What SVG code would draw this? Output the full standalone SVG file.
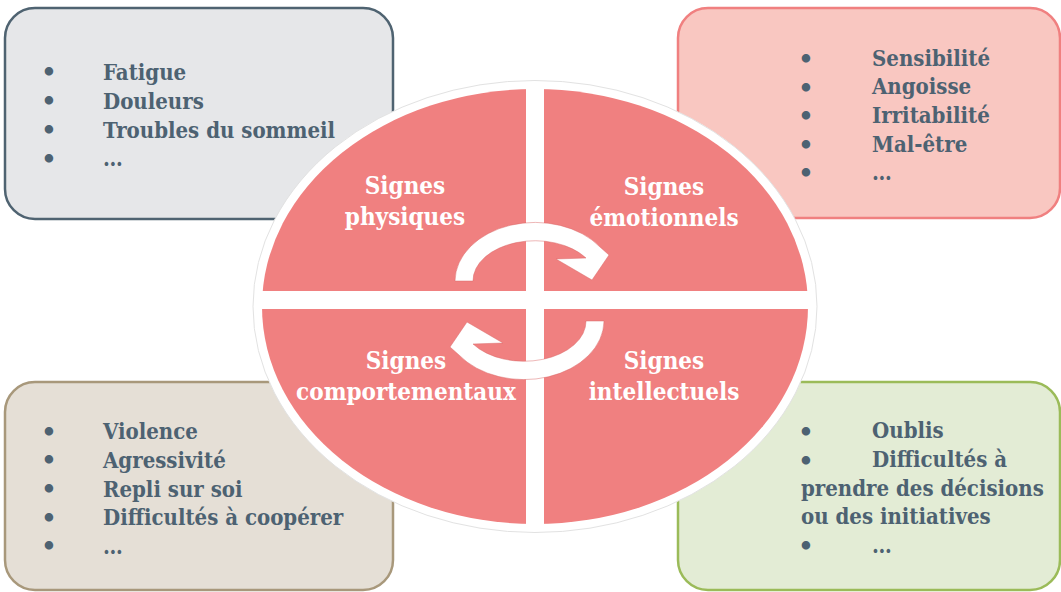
<svg xmlns="http://www.w3.org/2000/svg" width="1061" height="592" viewBox="0 0 1061 592">
  <style>
    .box { stroke-width: 2.5; }
    .item { font-family: "DejaVu Serif Condensed", "DejaVu Serif", serif; font-stretch: condensed; font-weight: bold; font-size: 22px; fill: #4d6272; }
    .bul { font-family: "DejaVu Serif", serif; font-weight: bold; font-size: 24px; fill: #4d6272; text-anchor: middle; }
    .lbl { font-family: "DejaVu Serif Condensed", "DejaVu Serif", serif; font-stretch: condensed; font-weight: bold; font-size: 24px; fill: #ffffff; text-anchor: middle; }
    .arrow { fill: #ffffff; stroke: #d96868; stroke-width: 0.8; stroke-opacity: 0.6; }
  </style>
  <defs>
    <path id="circArrow" d="M455,281 A80,59 0 0 1 600,247 L609,255 L592,280 L556,259 L586,258 A62,40 0 0 0 473,281 Z"/>
  </defs>
  <rect width="1061" height="592" fill="#ffffff"/>

  <g id="box-physiques">
    <rect class="box" x="5" y="8" width="388" height="211" rx="30" fill="#e6e7e9" stroke="#4f6371"/>
    <text class="bul" x="49" y="80">•</text>
    <text class="bul" x="49" y="109">•</text>
    <text class="bul" x="49" y="138">•</text>
    <text class="bul" x="49" y="167">•</text>
    <text class="item" x="103" y="80">Fatigue</text>
    <text class="item" x="103" y="109">Douleurs</text>
    <text class="item" x="103" y="138">Troubles du sommeil</text>
    <text class="item" x="103" y="166">…</text>
  </g>

  <g id="box-emotionnels">
    <rect class="box" x="678" y="8" width="382" height="210" rx="30" fill="#f9c7c1" stroke="#f08080"/>
    <text class="bul" x="806" y="67">•</text>
    <text class="bul" x="806" y="96">•</text>
    <text class="bul" x="806" y="124">•</text>
    <text class="bul" x="806" y="153">•</text>
    <text class="bul" x="806" y="181">•</text>
    <text class="item" x="872" y="66">Sensibilité</text>
    <text class="item" x="872" y="94">Angoisse</text>
    <text class="item" x="872" y="123">Irritabilité</text>
    <text class="item" x="872" y="152">Mal-être</text>
    <text class="item" x="872" y="180">…</text>
  </g>

  <g id="box-comportementaux">
    <rect class="box" x="5" y="382" width="388" height="208" rx="30" fill="#e5dfd6" stroke="#a8987b"/>
    <text class="bul" x="49" y="440">•</text>
    <text class="bul" x="49" y="468">•</text>
    <text class="bul" x="49" y="497">•</text>
    <text class="bul" x="49" y="526">•</text>
    <text class="bul" x="49" y="554">•</text>
    <text class="item" x="103" y="439">Violence</text>
    <text class="item" x="103" y="468">Agressivité</text>
    <text class="item" x="103" y="497">Repli sur soi</text>
    <text class="item" x="103" y="525">Difficultés à coopérer</text>
    <text class="item" x="103" y="554">…</text>
  </g>

  <g id="box-intellectuels">
    <rect class="box" x="678" y="382" width="382" height="208" rx="30" fill="#e3ecd5" stroke="#9bbb59"/>
    <text class="bul" x="806" y="440">•</text>
    <text class="bul" x="806" y="469">•</text>
    <text class="bul" x="806" y="554">•</text>
    <text class="item" x="872" y="438">Oublis</text>
    <text class="item" x="872" y="467">Difficultés à</text>
    <text class="item" x="801" y="496">prendre des décisions</text>
    <text class="item" x="801" y="524">ou des initiatives</text>
    <text class="item" x="872" y="553">…</text>
  </g>

  <g id="cycle">
    <ellipse cx="535" cy="306.5" rx="282" ry="226" fill="#ffffff" stroke="#e2e2e2" stroke-width="1"/>
    <ellipse cx="535" cy="306.5" rx="273" ry="217.5" fill="#f08080"/>
    <rect x="526" y="84" width="18" height="446" fill="#ffffff"/>
    <rect x="256" y="291" width="558" height="18" fill="#ffffff"/>
  </g>

  <g id="connectors">
    <use href="#circArrow" class="arrow"/>
    <use href="#circArrow" class="arrow" transform="rotate(180 529.5 301)"/>
  </g>

  <g id="q-physiques">
    <text class="lbl" x="405" y="194">Signes</text>
    <text class="lbl" x="405" y="225">physiques</text>
  </g>
  <g id="q-emotionnels">
    <text class="lbl" x="664" y="195">Signes</text>
    <text class="lbl" x="664" y="226">émotionnels</text>
  </g>
  <g id="q-comportementaux">
    <text class="lbl" x="406" y="369">Signes</text>
    <text class="lbl" x="406" y="400">comportementaux</text>
  </g>
  <g id="q-intellectuels">
    <text class="lbl" x="664" y="369">Signes</text>
    <text class="lbl" x="664" y="400">intellectuels</text>
  </g>
</svg>
